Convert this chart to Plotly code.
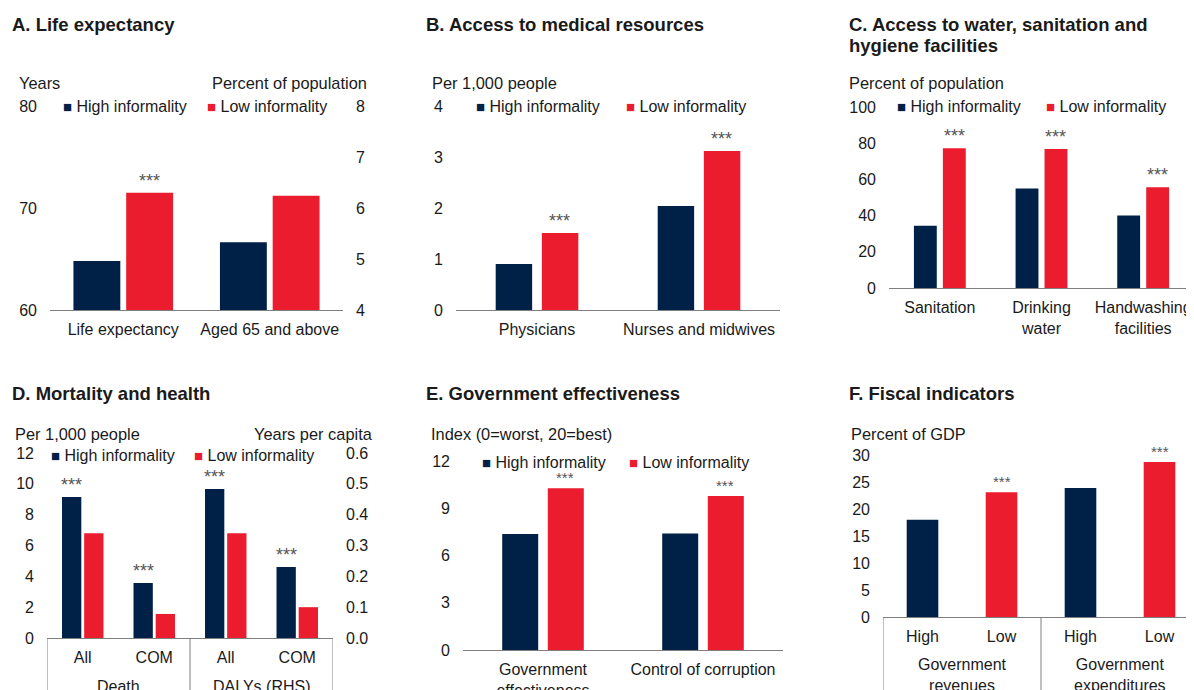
"""Six-panel informality comparison chart."""

import plotly.graph_objects as go

NAVY = "#002147"
RED = "#EB1C2D"
FONT = "Liberation Sans, Arial, sans-serif"
TXT = "#1a1a1a"
GRID = "#7f7f7f"
W, H = 1194, 690
OX, OY = 8, 8  # page offset of the plot div

SERIES = ["High informality", "Low informality"]

# A. Life expectancy (left axis: years, right axis: percent of population)
a_cats = ["Life expectancy", "Aged 65 and above"]
a_high = [64.8, 5.33]
a_low = [71.5, 6.24]
a_sig_low = [True, False]

# B. Access to medical resources
b_cats = ["Physicians", "Nurses and midwives"]
b_high = [0.9, 2.04]
b_low = [1.51, 3.12]
b_sig_low = [True, True]

# C. Access to water, sanitation and hygiene
c_cats = ["Sanitation", "Drinking<br>water", "Handwashing<br>facilities"]
c_high = [34.4, 55.0, 40.0]
c_low = [77.2, 76.8, 55.6]
c_sig_low = [True, True, True]

# D. Mortality and health (Death on left axis, DALYs on right axis)
d_groups = ["Death", "DALYs (RHS)"]
d_cats = ["All", "COM", "All", "COM"]
d_high = [9.15, 3.57, 0.483, 0.23]
d_low = [6.8, 1.56, 0.34, 0.10]
d_sig_high = [True, True, True, True]

# E. Government effectiveness
e_cats = ["Government<br>effectiveness", "Control of corruption"]
e_high = [7.36, 7.4]
e_low = [10.27, 9.77]
e_sig_low = [True, True]

# F. Fiscal indicators
f_groups = ["Government<br>revenues", "Government<br>expenditures"]
f_levels = ["High", "Low"]
f_high = [18.0, 23.9]
f_low = [23.1, 28.7]
f_sig_low = [True, True]


def px_x(v):
    return (v - OX) / W


def px_y(v):
    return 1 - (v - OY) / H


fig = go.Figure()
annotations = []
shapes = []


def bar(x, y, color, xa, ya, width, offset):
    fig.add_trace(
        go.Bar(
            x=x, y=y, xaxis=xa, yaxis=ya, width=width, offset=offset,
            marker=dict(color=color, line=dict(width=0)), showlegend=False,
        )
    )


def stars(x, y, xa, ya, size=18, shift=0):
    annotations.append(dict(
        x=x, y=y, xref=xa, yref=ya, text="***", showarrow=False, yanchor="bottom",
        yshift=shift, font=dict(size=size, color="#555555"),
    ))


def text(x, y, s, size=16, bold=False, xanchor="left"):
    annotations.append(dict(
        x=px_x(x), y=px_y(y), xref="paper", yref="paper", text=f"<b>{s}</b>" if bold else s,
        showarrow=False, xanchor=xanchor, yanchor="middle", align="left",
        font=dict(size=size, color=TXT),
    ))


def legend(x_high, x_low, y):
    for x, color, name in [(x_high, NAVY, SERIES[0]), (x_low, RED, SERIES[1])]:
        annotations.append(dict(
            x=px_x(x), y=px_y(y), xref="paper", yref="paper", showarrow=False,
            xanchor="left", yanchor="middle",
            text=f"<span style='color:{color};font-size:15px'>■</span> {name}",
            font=dict(size=16, color=TXT),
        ))


def group_axis(xa, groups, per_group, base_y, label_y):
    """Second level of category labels plus the divider lines."""
    for g, name in enumerate(groups):
        annotations.append(dict(
            x=g * per_group + (per_group - 1) / 2, y=px_y(label_y), xref=xa, yref="paper",
            text=name, showarrow=False, yanchor="top", font=dict(size=16, color=TXT),
        ))
    for g in range(len(groups) + 1):
        shapes.append(dict(
            type="line", xref=xa, yref="paper", x0=g * per_group - 0.5, x1=g * per_group - 0.5,
            y0=px_y(base_y), y1=0, line=dict(color=GRID, width=1),
        ))


axis_common = dict(showgrid=False, zeroline=False, ticks="", automargin=False,
                   tickfont=dict(size=16, color=TXT))
yax = dict(ticklabelstandoff=12, **axis_common)
xline = dict(showline=True, linecolor=GRID, linewidth=1, ticklabelstandoff=5, **axis_common)

# ---- Panel A
idx = list(range(len(a_cats)))
bar([idx[0]], [a_high[0]], NAVY, "x", "y", 0.32, -0.34)
bar([idx[0]], [a_low[0]], RED, "x", "y", 0.32, 0.02)
bar([idx[1]], [a_high[1]], NAVY, "x", "y2", 0.32, -0.34)
bar([idx[1]], [a_low[1]], RED, "x", "y2", 0.32, 0.02)
for i, s in enumerate(a_sig_low):
    if s:
        ya = "y" if i == 0 else "y2"
        stars(i + 0.18, a_low[i], "x", ya)
fig.update_layout(
    xaxis=dict(domain=[px_x(50), px_x(343)], range=[-0.5, 1.5], tickvals=idx, ticktext=a_cats,
               anchor="y", **xline),
    yaxis=dict(domain=[px_y(310), px_y(106)], range=[60, 80], dtick=10, anchor="x", **yax),
    yaxis2=dict(overlaying="y", side="right", range=[4, 8], dtick=1, anchor="x", **yax),
)

# ---- Panel B
idx = list(range(len(b_cats)))
bar(idx, b_high, NAVY, "x3", "y3", 0.225, -0.255)
bar(idx, b_low, RED, "x3", "y3", 0.225, 0.03)
for i, s in enumerate(b_sig_low):
    if s:
        stars(i + 0.14, b_low[i], "x3", "y3")
fig.update_layout(
    xaxis3=dict(domain=[px_x(456), px_x(780)], range=[-0.5, 1.5], tickvals=idx, ticktext=b_cats,
                anchor="y3", **xline),
    yaxis3=dict(domain=[px_y(310), px_y(106)], range=[0, 4], dtick=1, anchor="x3", **yax),
)

# ---- Panel C
idx = list(range(len(c_cats)))
bar(idx, c_high, NAVY, "x4", "y4", 0.225, -0.255)
bar(idx, c_low, RED, "x4", "y4", 0.225, 0.03)
for i, s in enumerate(c_sig_low):
    if s:
        stars(i + 0.14, c_low[i], "x4", "y4")
fig.update_layout(
    xaxis4=dict(domain=[px_x(889), px_x(1194)], range=[-0.5, 2.5], tickvals=idx, ticktext=c_cats,
                anchor="y4", **xline),
    yaxis4=dict(domain=[px_y(288), px_y(107)], range=[0, 100], dtick=20, anchor="x4", **yax),
)

# ---- Panel D (two-level category axis)
idx = list(range(len(d_cats)))
half = len(d_cats) // len(d_groups)
bar(idx[:half], d_high[:half], NAVY, "x5", "y5", 0.27, -0.29)
bar(idx[:half], d_low[:half], RED, "x5", "y5", 0.27, 0.02)
bar(idx[half:], d_high[half:], NAVY, "x5", "y6", 0.27, -0.29)
bar(idx[half:], d_low[half:], RED, "x5", "y6", 0.27, 0.02)
for i, s in enumerate(d_sig_high):
    if s:
        ya = "y5" if i < half else "y6"
        stars(i - 0.155, d_high[i], "x5", ya)
group_axis("x5", d_groups, half, 638, 676)
fig.update_layout(
    xaxis5=dict(domain=[px_x(47), px_x(333)], range=[-0.5, 3.5], tickvals=idx, ticktext=d_cats,
                anchor="y5", **xline),
    yaxis5=dict(domain=[px_y(638), px_y(453)], range=[0, 12], dtick=2, anchor="x5", **yax),
    yaxis6=dict(overlaying="y5", side="right", range=[0, 0.6], dtick=0.1, tickformat=".1f",
                anchor="x5", **yax),
)

# ---- Panel E
idx = list(range(len(e_cats)))
bar(idx, e_high, NAVY, "x7", "y7", 0.225, -0.255)
bar(idx, e_low, RED, "x7", "y7", 0.225, 0.03)
for i, s in enumerate(e_sig_low):
    if s:
        stars(i + 0.14, e_low[i], "x7", "y7", 15)
fig.update_layout(
    xaxis7=dict(domain=[px_x(463), px_x(783)], range=[-0.5, 1.5], tickvals=idx, ticktext=e_cats,
                anchor="y7", **xline),
    yaxis7=dict(domain=[px_y(650), px_y(461)], range=[0, 12], dtick=3, anchor="x7", **yax),
)

# ---- Panel F (two-level category axis)
n = len(f_levels)
f_x_high = [g * n for g in range(len(f_groups))]
f_x_low = [g * n + 1 for g in range(len(f_groups))]
bar(f_x_high, f_high, NAVY, "x8", "y8", 0.4, -0.2)
bar(f_x_low, f_low, RED, "x8", "y8", 0.4, -0.2)
for i, s in enumerate(f_sig_low):
    if s:
        stars(f_x_low[i], f_low[i], "x8", "y8", 15)
group_axis("x8", f_groups, n, 617, 654)
fig.update_layout(
    xaxis8=dict(domain=[px_x(883), px_x(1199)], range=[-0.5, 3.5], tickvals=list(range(n * len(f_groups))),
                ticktext=f_levels * len(f_groups), anchor="y8", **xline),
    yaxis8=dict(domain=[px_y(617), px_y(455)], range=[0, 30], dtick=5, anchor="x8", **yax),
)

# ---- Titles, units and legends
text(10, 24, "A. Life expectancy", 18.5, True)
text(424, 24, "B. Access to medical resources", 18.5, True)
text(847, 24, "C. Access to water, sanitation and", 18.5, True)
text(847, 46, "hygiene facilities", 18.5, True)
text(10, 394, "D. Mortality and health", 18.5, True)
text(424, 394, "E. Government effectiveness", 18.5, True)
text(847, 394, "F. Fiscal indicators", 18.5, True)

text(17, 83, "Years", 16.4)
text(369, 83, "Percent of population", 16.4, xanchor="right")
text(430, 83, "Per 1,000 people", 16.4)
text(847, 83, "Percent of population", 16.4)
text(13, 434, "Per 1,000 people", 16.4)
text(375, 434, "Years per capita", 16.4, xanchor="right")
text(429, 434, "Index (0=worst, 20=best)", 16.4)
text(849, 434, "Percent of GDP", 16.4)

legend(61, 205, 106)
legend(474, 624, 106)
legend(895, 1044, 106)
legend(49, 192, 455)
legend(480, 627, 462)

fig.update_layout(
    width=W, height=H, margin=dict(l=0, r=0, t=0, b=0, autoexpand=False),
    paper_bgcolor="white", plot_bgcolor="white", barmode="overlay",
    font=dict(family=FONT, size=16, color=TXT),
    annotations=annotations, shapes=shapes, showlegend=False,
)

fig.write_html("out.html")
